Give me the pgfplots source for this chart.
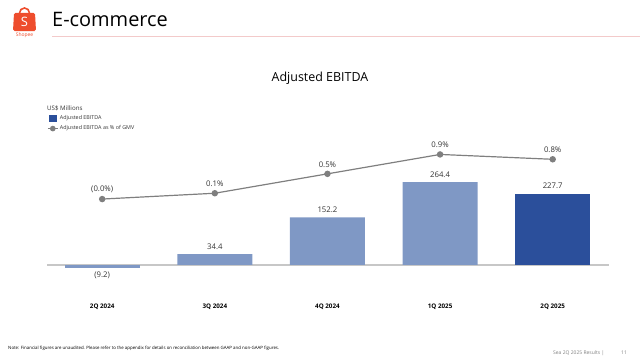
\documentclass[border=0pt]{standalone}
\usepackage{pgfplots}
\pgfplotsset{compat=1.18}
\usepackage{pgfplotstable}
\usepackage{fontspec}
\setmainfont{Open Sans}
\definecolor{barlight}{HTML}{7F98C5}
\definecolor{bardark}{HTML}{2B4F9B}
\definecolor{linegray}{HTML}{7F7F7F}
\definecolor{shopee}{HTML}{EE4D2D}
\definecolor{pinkline}{HTML}{F3CACA}
\definecolor{txt}{HTML}{333333}

\pgfplotstableread{
x val lab
0 -9.2 (9.2)
}\barneg
\pgfplotstableread{
x val lab
1 34.4 34.4
2 152.2 152.2
3 264.4 264.4
}\barpos
\pgfplotstableread{
x val lab
4 227.7 227.7
}\barlast
\pgfplotstableread{
x pct lab
0 -0.02 (0.0\%)
1 0.1 0.1\%
2 0.5 0.5\%
3 0.9 0.9\%
4 0.8 0.8\%
}\pcttab

\begin{document}
\begin{tikzpicture}[x=1bp,y=1bp]
\useasboundingbox (0,0) rectangle (640,362);
% header
\fill[shopee, rounded corners=1.5bp] (13,331) -- (36,331) -- (35,349) -- (14,349) -- cycle;
\draw[shopee, line width=1.6bp] (19.5,349) arc (180:0:5);
\node[text=white, font=\fontsize{13}{13}\selectfont] at (24.5,340) {S};
\node[text=shopee, font=\fontsize{5}{5}\selectfont] at (24.5,326.5) {Shopee};
\node[anchor=west, font=\fontsize{20}{20}\selectfont, inner sep=0] at (52,343) {E-commerce};
\draw[pinkline, line width=0.8bp] (52,326) -- (640,326);
\node[font=\fontsize{12.5}{12.5}\selectfont, inner sep=0] at (320,284) {Adjusted EBITDA};
\node[anchor=west, font=\fontsize{6.2}{6.2}\selectfont, inner sep=0, text=txt] at (47,254) {US\$ Millions};
% footer
\node[anchor=west, font=\fontsize{4.4}{4.4}\selectfont, inner sep=0] at (8,14) {Note: Financial figures are unaudited. Please refer to the appendix for details on reconciliation between GAAP and non-GAAP figures.};
\node[anchor=west, font=\fontsize{5}{5}\selectfont, inner sep=0, text=linegray] at (553,9) {Sea 2Q 2025 Results |};
\node[anchor=west, font=\fontsize{5}{5}\selectfont, inner sep=0, text=linegray] at (621,9) {11};

\begin{axis}[
  at={(47bp,72bp)}, anchor=south west,
  scale only axis, width=562bp, height=160bp,
  xmin=-0.49, xmax=4.5, ymin=-80, ymax=431.3,
  axis line style={draw=none},
  ytick=\empty,
  xtick={0,1,2,3,4},
  xticklabels={2Q 2024,3Q 2024,4Q 2024,1Q 2025,2Q 2025},
  major tick length=0pt,
  xticklabel style={font=\fontsize{6.3}{6.3}\selectfont\bfseries, yshift=-10bp},
  extra y ticks={0}, extra y tick labels={},
  extra y tick style={grid=major, major grid style={draw=black!22, line width=1.5bp}},
  clip=false,
  point meta=explicit symbolic,
  nodes near coords,
  every node near coord/.append style={font=\fontsize{7.8}{7.8}\selectfont, text=txt},
]
\addplot[ybar, bar width=75bp, bar shift=0pt, fill=barlight, draw=none,
  every node near coord/.append style={anchor=north, yshift=-0.5bp}]
  table[x=x, y=val, meta=lab] {\barneg};
\addplot[ybar, bar width=75bp, bar shift=0pt, fill=barlight, draw=none,
  every node near coord/.append style={anchor=south, yshift=1.5bp}]
  table[x=x, y=val, meta=lab] {\barpos};
\addplot[ybar, bar width=75bp, bar shift=0pt, fill=bardark, draw=none,
  every node near coord/.append style={anchor=south, yshift=1.5bp}]
  table[x=x, y=val, meta=lab] {\barlast};
\end{axis}

\begin{axis}[
  at={(47bp,72bp)}, anchor=south west,
  scale only axis, width=562bp, height=160bp,
  xmin=-0.49, xmax=4.5, ymin=-1.895, ymax=1.404,
  hide axis, clip=false,
  point meta=explicit symbolic,
  nodes near coords,
  every node near coord/.append style={font=\fontsize{7.8}{7.8}\selectfont, text=txt, anchor=south, yshift=2.5bp},
  legend style={at={(0,1.1)}, anchor=north west, draw=none, fill=none,
    font=\fontsize{5.4}{5.4}\selectfont, text=txt, row sep=1.5bp, inner sep=0pt,
    nodes={inner sep=1.5bp}},
  legend cell align=left,
]
\addlegendimage{legend image code/.code={\fill[bardark] (0bp,-2.8bp) rectangle (7bp,2.8bp);}}
\addlegendentry{Adjusted EBITDA}
\addplot[linegray, line width=1.2bp, mark=*, mark size=2.6bp,
  mark options={fill=linegray, draw=linegray},
  legend image code/.code={\draw[linegray, line width=1.2bp] (-1bp,0bp) -- (9bp,0bp); \fill[linegray] (4bp,0bp) circle (2.2bp);}]
  table[x=x, y=pct, meta=lab] {\pcttab};
\addlegendentry{Adjusted EBITDA as \% of GMV}
\end{axis}
\end{tikzpicture}
\end{document}
